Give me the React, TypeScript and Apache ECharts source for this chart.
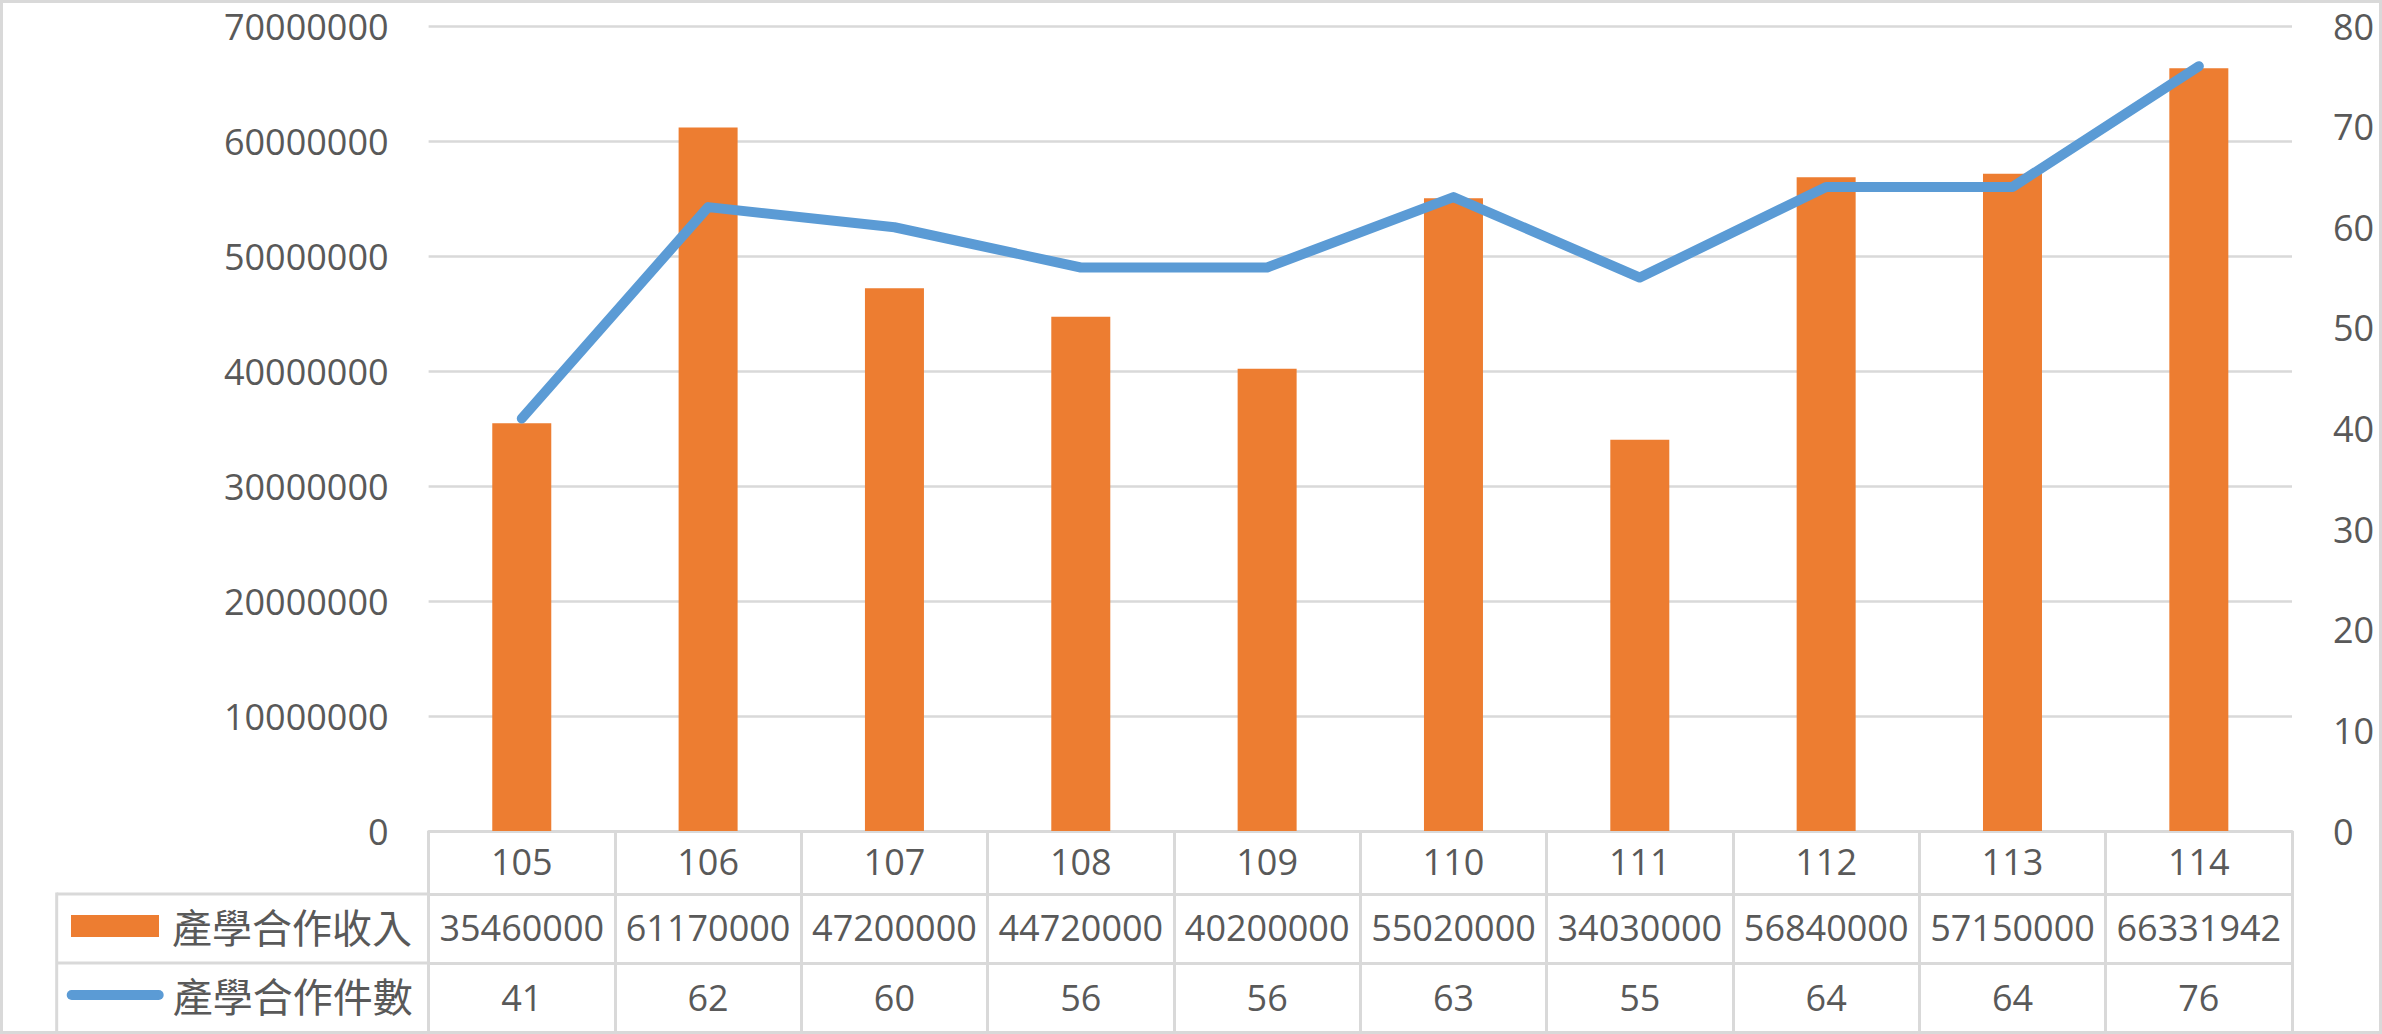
import React, { useEffect, useRef } from "react";
import * as echarts from "echarts";

const categories = ["105", "106", "107", "108", "109", "110", "111", "112", "113", "114"];
const revenue = [35460000, 61170000, 47200000, 44720000, 40200000, 55020000, 34030000, 56840000, 57150000, 66331942];
const counts = [41, 62, 60, 56, 56, 63, 55, 64, 64, 76];
const revenueName = "產學合作收入";
const countName = "產學合作件數";
const leftAxis = { min: 0, max: 70000000, interval: 10000000 };
const rightAxis = { min: 0, max: 80, interval: 10 };

const W = 2382;
const H = 1034;
const GRID_L = 428.6;
const GRID_R = 2292;
const GRID_T = 26;
const GRID_B = 831;
const ROW1 = 894;
const ROW2 = 963;
const TABLE_B = 1032;
const LEG_L = 56.7;

const GRAY = "#D9D9D9";
const TEXT = "#595959";
const NUM_FONT = "'Open Sans', 'Noto Sans CJK TC', sans-serif";
const CJK_FONT = "'Noto Sans CJK TC', 'Noto Sans CJK SC', sans-serif";
const LINE_ICON = "path://M5,0 L92,0 A5,5 0 0 1 92,10 L5,10 A5,5 0 0 1 5,0 Z";

export default function App() {
  const ref = useRef<HTMLDivElement>(null);

  useEffect(() => {
    document.body.style.margin = "0";
    if (!ref.current) return;
    const chart = echarts.init(ref.current, undefined, { renderer: "svg" });

    const numLabel = {
      color: TEXT,
      fontFamily: NUM_FONT,
      fontSize: 36,
      lineHeight: 36,
    };

    const legendText = {
      color: TEXT,
      fontFamily: CJK_FONT,
      fontSize: 40,
      lineHeight: 40,
      padding: [0, 0, 0, 8],
    };

    const line = (x1: number, y1: number, x2: number, y2: number) => ({
      type: "line",
      shape: { x1, y1, x2, y2 },
      style: { stroke: GRAY, lineWidth: 3 },
      silent: true,
    });

    chart.setOption({
      animation: false,
      backgroundColor: "#ffffff",
      grid: {
        left: GRID_L,
        right: W - GRID_R,
        top: GRID_T,
        bottom: H - GRID_B,
        containLabel: false,
        outerBoundsMode: "none",
      },
      legend: [
        {
          data: [{ name: revenueName, icon: "rect" }],
          left: 71,
          top: 906,
          padding: 0,
          itemWidth: 88,
          itemHeight: 22,
          selectedMode: false,
          textStyle: legendText,
        },
        {
          data: [{ name: countName, icon: LINE_ICON }],
          left: 66.7,
          top: 975,
          padding: 0,
          itemWidth: 97,
          itemHeight: 10,
          selectedMode: false,
          textStyle: { ...legendText, padding: [0, 0, 0, 4] },
        },
      ],
      xAxis: [
        {
          type: "category",
          data: categories,
          position: "bottom",
          boundaryGap: true,
          axisLine: { show: true, onZero: false, lineStyle: { color: GRAY, width: 3 } },
          axisTick: {
            show: true,
            interval: 0,
            alignWithLabel: false,
            length: TABLE_B - GRID_B,
            lineStyle: { color: GRAY, width: 3 },
          },
          axisLabel: { ...numLabel, margin: 12, interval: 0 },
          splitLine: { show: false },
        },
        {
          type: "category",
          data: categories,
          position: "bottom",
          offset: ROW1 - GRID_B,
          axisLine: { show: true, onZero: false, lineStyle: { color: GRAY, width: 3 } },
          axisTick: { show: false },
          axisLabel: {
            ...numLabel,
            margin: 15,
            interval: 0,
            formatter: (_v: string, i: number) => String(revenue[i]),
          },
          splitLine: { show: false },
        },
        {
          type: "category",
          data: categories,
          position: "bottom",
          offset: ROW2 - GRID_B,
          axisLine: { show: true, onZero: false, lineStyle: { color: GRAY, width: 3 } },
          axisTick: { show: false },
          axisLabel: {
            ...numLabel,
            margin: 16,
            interval: 0,
            formatter: (_v: string, i: number) => String(counts[i]),
          },
          splitLine: { show: false },
        },
      ],
      yAxis: [
        {
          type: "value",
          position: "left",
          min: leftAxis.min,
          max: leftAxis.max,
          interval: leftAxis.interval,
          axisLine: { show: false },
          axisTick: { show: false },
          axisLabel: { ...numLabel, margin: 40, formatter: (v: number) => String(v) },
          splitLine: { show: true, lineStyle: { color: GRAY, width: 2.5 } },
        },
        {
          type: "value",
          position: "right",
          min: rightAxis.min,
          max: rightAxis.max,
          interval: rightAxis.interval,
          axisLine: { show: false },
          axisTick: { show: false },
          axisLabel: { ...numLabel, margin: 41, formatter: (v: number) => String(v) },
          splitLine: { show: false },
        },
      ],
      series: [
        {
          name: revenueName,
          type: "bar",
          xAxisIndex: 0,
          yAxisIndex: 0,
          data: revenue,
          barWidth: 59,
          itemStyle: { color: "#ED7D31" },
          z: 2,
        },
        {
          name: countName,
          type: "line",
          xAxisIndex: 0,
          yAxisIndex: 1,
          data: counts,
          symbol: "none",
          showSymbol: false,
          lineStyle: { color: "#5B9BD5", width: 10, cap: "round", join: "round" },
          itemStyle: { color: "#5B9BD5" },
          z: 3,
        },
      ],
      graphic: [
        {
          type: "rect",
          shape: { x: 1.5, y: 1.5, width: W - 3, height: H - 3 },
          style: { fill: "none", stroke: GRAY, lineWidth: 3 },
          silent: true,
          z: 0,
        },
        line(LEG_L, ROW1, GRID_L, ROW1),
        line(LEG_L, ROW2, GRID_L, ROW2),
        line(LEG_L, ROW1 - 1.5, LEG_L, TABLE_B),
      ],
    });

    return () => chart.dispose();
  }, []);

  return <div ref={ref} style={{ width: W, height: H }} />;
}
